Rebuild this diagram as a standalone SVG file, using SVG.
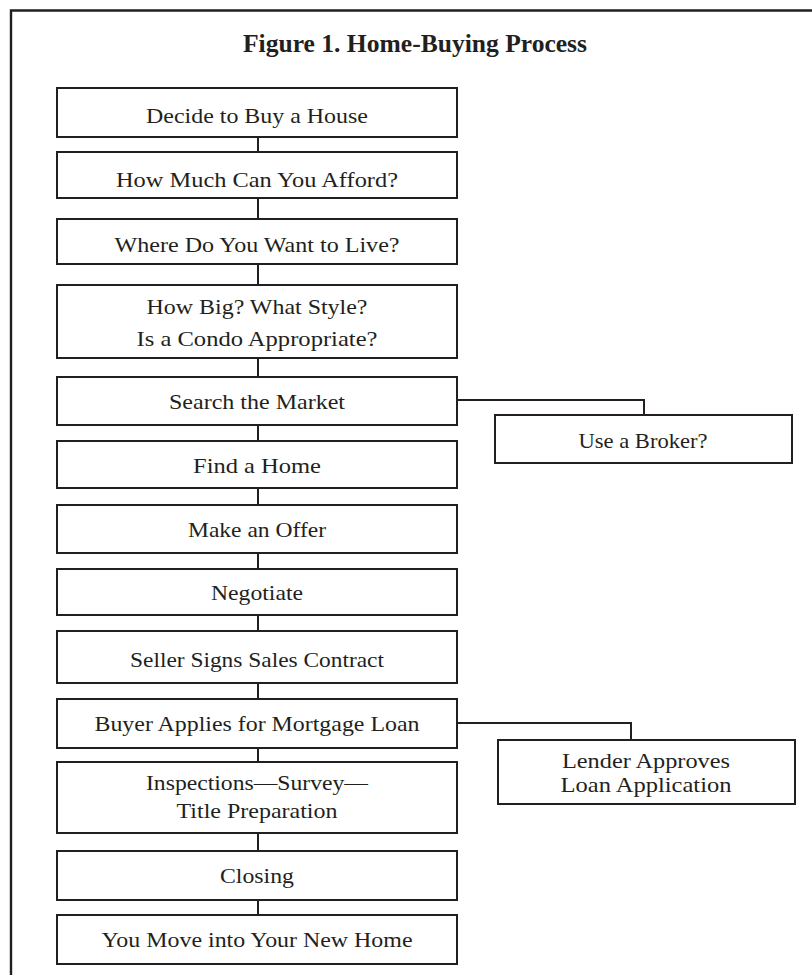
<svg xmlns="http://www.w3.org/2000/svg" width="812" height="975" viewBox="0 0 812 975">
<style>
.box{fill:#fff;stroke:#231f20;stroke-width:2}
.lbl{font-family:"Liberation Serif","Times New Roman",serif;font-size:22px;fill:#231f20;text-anchor:middle}
.title{font-family:"Liberation Serif","Times New Roman",serif;font-size:25px;font-weight:bold;fill:#231f20;text-anchor:middle}
.conn{fill:none;stroke:#231f20;stroke-width:2}
.frame{fill:none;stroke:#231f20;stroke-width:2.4}
</style>
<rect width="812" height="975" fill="#fff"/>
<path class="frame" d="M11,980 V10.5 H820"/>
<text class="title" x="415" y="52" textLength="344" lengthAdjust="spacingAndGlyphs">Figure 1. Home-Buying Process</text>
<g id="connectors">
<path class="conn" d="M258,137 V152 M258,198 V219 M258,264 V285 M258,358 V377 M258,425 V441 M258,488 V505 M258,553 V569 M258,615 V631 M258,683 V699 M258,748 V762 M258,833 V851 M258,900 V915"/>
<path class="conn" d="M457,400 H644 V415"/>
<path class="conn" d="M457,723 H631 V740"/>
</g>
<g id="n1"><rect class="box" x="57" y="88" width="400" height="49"/><text class="lbl" x="257" y="123" textLength="222" lengthAdjust="spacingAndGlyphs">Decide to Buy a House</text></g>
<g id="n2"><rect class="box" x="57" y="152" width="400" height="46"/><text class="lbl" x="257" y="187" textLength="282" lengthAdjust="spacingAndGlyphs">How Much Can You Afford?</text></g>
<g id="n3"><rect class="box" x="57" y="219" width="400" height="45"/><text class="lbl" x="257" y="252" textLength="285" lengthAdjust="spacingAndGlyphs">Where Do You Want to Live?</text></g>
<g id="n4"><rect class="box" x="57" y="285" width="400" height="73"/><text class="lbl" x="257" y="314" textLength="221" lengthAdjust="spacingAndGlyphs">How Big? What Style?</text><text class="lbl" x="257" y="346" textLength="241" lengthAdjust="spacingAndGlyphs">Is a Condo Appropriate?</text></g>
<g id="n5"><rect class="box" x="57" y="377" width="400" height="48"/><text class="lbl" x="257" y="409" textLength="176" lengthAdjust="spacingAndGlyphs">Search the Market</text></g>
<g id="n5b"><rect class="box" x="495" y="415" width="297" height="48"/><text class="lbl" x="643" y="448" textLength="129" lengthAdjust="spacingAndGlyphs">Use a Broker?</text></g>
<g id="n6"><rect class="box" x="57" y="441" width="400" height="47"/><text class="lbl" x="257" y="473" textLength="128" lengthAdjust="spacingAndGlyphs">Find a Home</text></g>
<g id="n7"><rect class="box" x="57" y="505" width="400" height="48"/><text class="lbl" x="257" y="537" textLength="138" lengthAdjust="spacingAndGlyphs">Make an Offer</text></g>
<g id="n8"><rect class="box" x="57" y="569" width="400" height="46"/><text class="lbl" x="257" y="600" textLength="92" lengthAdjust="spacingAndGlyphs">Negotiate</text></g>
<g id="n9"><rect class="box" x="57" y="631" width="400" height="52"/><text class="lbl" x="257" y="667" textLength="254" lengthAdjust="spacingAndGlyphs">Seller Signs Sales Contract</text></g>
<g id="n10"><rect class="box" x="57" y="699" width="400" height="49"/><text class="lbl" x="257" y="731" textLength="325" lengthAdjust="spacingAndGlyphs">Buyer Applies for Mortgage Loan</text></g>
<g id="n10b"><rect class="box" x="498" y="740" width="297" height="64"/><text class="lbl" x="646" y="768" textLength="168" lengthAdjust="spacingAndGlyphs">Lender Approves</text><text class="lbl" x="646" y="792" textLength="171" lengthAdjust="spacingAndGlyphs">Loan Application</text></g>
<g id="n11"><rect class="box" x="57" y="762" width="400" height="71"/><text class="lbl" x="257" y="790" textLength="222" lengthAdjust="spacingAndGlyphs">Inspections—Survey—</text><text class="lbl" x="257" y="818" textLength="161" lengthAdjust="spacingAndGlyphs">Title Preparation</text></g>
<g id="n12"><rect class="box" x="57" y="851" width="400" height="49"/><text class="lbl" x="257" y="883" textLength="74" lengthAdjust="spacingAndGlyphs">Closing</text></g>
<g id="n13"><rect class="box" x="57" y="915" width="400" height="49"/><text class="lbl" x="257" y="947" textLength="311" lengthAdjust="spacingAndGlyphs">You Move into Your New Home</text></g>
</svg>
